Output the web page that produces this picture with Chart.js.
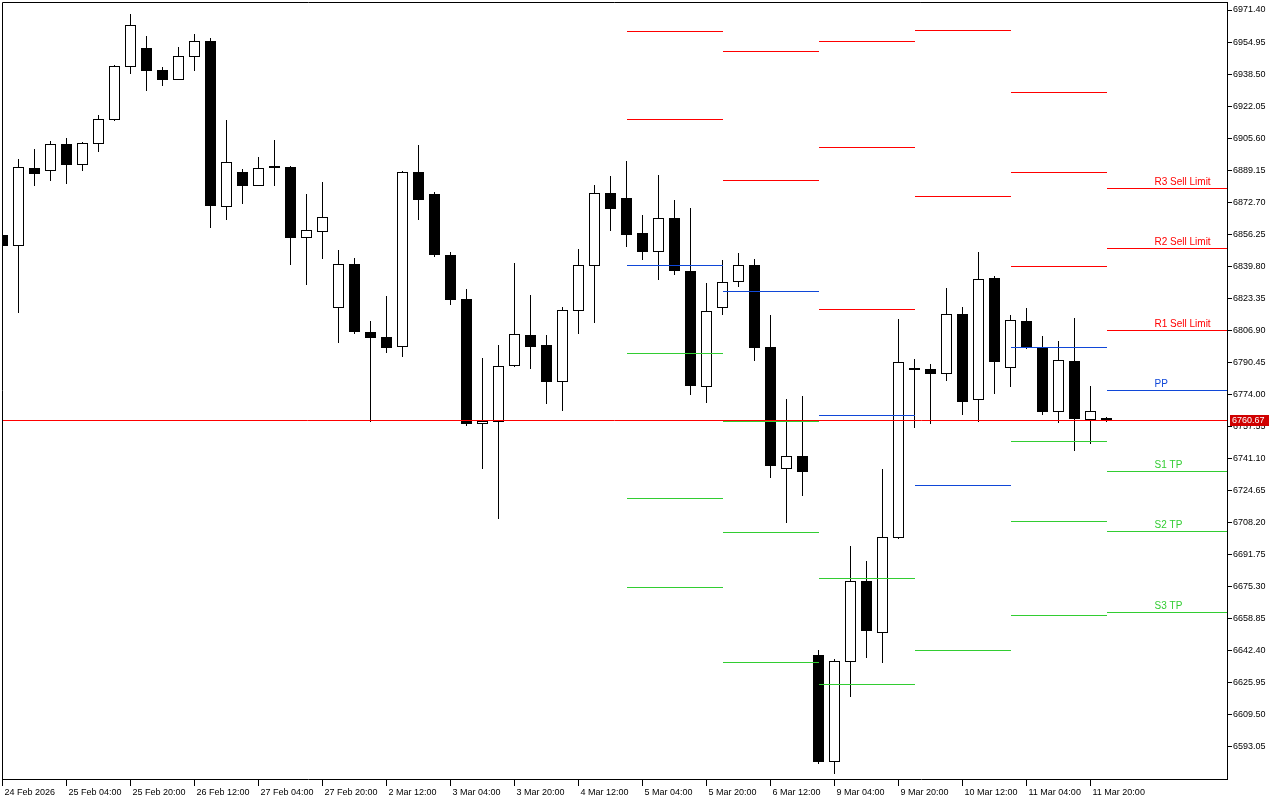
<!DOCTYPE html>
<html>
<head>
<meta charset="utf-8">
<title>US500 H4 - daily pivots</title>
<script src="https://cdn.jsdelivr.net/npm/chart.js@4.4.1/dist/chart.umd.min.js"></script>
<style>
  html, body { margin: 0; padding: 0; background: #fff; }
  canvas { display: block; }
</style>
</head>
<body>
<canvas id="chart" width="1280" height="800"></canvas>
<script>
/* ---------- data: H4 candles, 24 Feb 12:00 .. 12 Mar 00:00 ---------- */
const opens = [
  6855.8, 6850.5, 6890.1, 6889.1, 6902.4, 6892.2, 6902.9, 6915.3, 6942.5, 6951.7,
  6940.4, 6935.8, 6947.6, 6955.3, 6870.6, 6888.0, 6881.4, 6890.9, 6890.6, 6854.7,
  6857.7, 6818.7, 6840.8, 6805.9, 6803.3, 6798.7, 6888.0, 6876.7, 6845.4, 6822.8,
  6759.1, 6760.2, 6788.9, 6804.3, 6799.2, 6780.7, 6817.2, 6840.3, 6877.3, 6874.7,
  6856.7, 6847.5, 6864.4, 6837.2, 6778.1, 6818.7, 6832.1, 6840.3, 6798.2, 6736.0,
  6742.2, 6640.0, 6585.3, 6636.9, 6678.0, 6651.8, 6700.6, 6787.6, 6786.9, 6784.8,
  6815.3, 6771.5, 6833.8, 6787.9, 6811.7, 6798.2, 6765.1, 6791.0, 6761.2, 6761.6
];
const highs = [
  6857.0, 6894.9, 6900.0, 6904.1, 6905.7, 6903.6, 6917.5, 6942.8, 6969.3, 6958.0,
  6942.1, 6952.4, 6959.1, 6957.0, 6914.9, 6889.7, 6895.9, 6904.6, 6891.3, 6876.9,
  6883.1, 6848.1, 6844.0, 6811.7, 6824.5, 6888.6, 6902.1, 6877.6, 6847.1, 6828.1,
  6792.7, 6799.3, 6841.5, 6825.0, 6804.5, 6818.9, 6848.6, 6881.5, 6886.1, 6893.8,
  6866.1, 6886.7, 6873.8, 6869.7, 6831.2, 6843.0, 6846.6, 6843.5, 6814.8, 6771.6,
  6773.2, 6642.7, 6637.9, 6696.1, 6688.4, 6735.7, 6812.7, 6792.2, 6789.6, 6828.5,
  6818.7, 6847.1, 6834.8, 6814.8, 6818.3, 6804.0, 6801.4, 6813.2, 6777.9, 6762.4
];
const lows = [
  6849.5, 6815.9, 6881.2, 6883.7, 6882.2, 6888.9, 6898.6, 6914.5, 6938.7, 6930.0,
  6932.5, 6935.6, 6940.2, 6859.6, 6863.7, 6871.9, 6881.2, 6881.2, 6840.6, 6830.3,
  6843.7, 6800.5, 6805.1, 6759.9, 6795.4, 6793.3, 6863.7, 6844.7, 6820.0, 6757.9,
  6735.7, 6710.1, 6788.2, 6787.2, 6769.2, 6765.6, 6805.1, 6810.8, 6858.0, 6849.8,
  6843.2, 6832.9, 6835.5, 6773.8, 6769.7, 6814.9, 6829.3, 6791.3, 6731.2, 6708.1,
  6721.9, 6584.5, 6579.4, 6618.7, 6638.7, 6636.2, 6699.9, 6756.9, 6758.9, 6781.0,
  6763.5, 6759.9, 6774.3, 6777.9, 6797.3, 6763.5, 6759.4, 6745.1, 6748.7, 6759.9
];
const closes = [
  6850.3, 6890.6, 6887.5, 6902.4, 6891.9, 6902.9, 6915.3, 6942.5, 6963.5, 6940.2,
  6935.8, 6947.6, 6955.3, 6870.9, 6893.2, 6881.2, 6890.1, 6890.2, 6854.5, 6858.3,
  6864.9, 6840.8, 6806.2, 6803.3, 6798.0, 6888.0, 6874.0, 6845.7, 6822.6, 6758.9,
  6760.2, 6788.4, 6804.8, 6798.5, 6780.5, 6817.2, 6840.3, 6877.3, 6869.3, 6856.2,
  6847.3, 6864.4, 6837.5, 6778.4, 6816.7, 6831.5, 6840.3, 6798.0, 6737.4, 6742.2,
  6734.3, 6585.3, 6636.9, 6678.0, 6652.6, 6700.6, 6790.5, 6786.9, 6784.6, 6815.3,
  6770.2, 6833.1, 6790.8, 6812.0, 6798.2, 6765.1, 6791.5, 6761.5, 6765.3, 6760.67
];
const lastPrice = 6760.67;

// time axis labels, one every 4 bars
const xLabels = [
  "24 Feb 2026", "25 Feb 04:00", "25 Feb 20:00", "26 Feb 12:00", "27 Feb 04:00", "27 Feb 20:00",
  "2 Mar 12:00", "3 Mar 04:00", "3 Mar 20:00", "4 Mar 12:00", "5 Mar 04:00", "5 Mar 20:00",
  "6 Mar 12:00", "9 Mar 04:00", "9 Mar 20:00", "10 Mar 12:00", "11 Mar 04:00", "11 Mar 20:00"
];
const yTicks = [
  6971.40, 6954.95, 6938.50, 6922.05, 6905.60, 6889.15, 6872.70, 6856.25, 6839.80, 6823.35,
  6806.90, 6790.45, 6774.00, 6757.55, 6741.10, 6724.65, 6708.20, 6691.75, 6675.30, 6658.85,
  6642.40, 6625.95, 6609.50, 6593.05
];

/* ---------- daily pivot levels (null = off the visible range) ---------- */
const pivotDays = ["5 Mar", "6 Mar", "9 Mar", "10 Mar", "11 Mar", "12 Mar"];
const pivotStart = [39, 45, 51, 57, 63, 69]; // first H4 bar of each day
const r3 = [null, null, 6955.3, null, 6929.1, 6879.8];
const r2 = [6960.6, 6950.2, 6900.9, 6961.0, 6888.0, 6849.0];
const r1 = [6915.3, 6883.6, 6817.7, 6875.7, 6839.8, 6806.9];
const pp = [6840.3, 6826.9, 6763.2, 6727.3, 6798.2, 6776.1];
const s1 = [6795.1, 6760.3, 6679.5, 6642.5, 6749.9, 6734.5];
const s2 = [6720.6, 6703.1, 6625.1, null, 6708.8, 6703.7];
const s3 = [6674.9, 6636.4, null, null, 6660.5, 6662.1];
const levelNames = ["R3 Sell Limit", "R2 Sell Limit", "R1 Sell Limit", "PP", "S1 TP", "S2 TP", "S3 TP"];

const RED = "#ff0000", BLUE = "#1048d8", GREEN = "#32cd32";
const X_MIN = -0.03125, X_MAX = 76.53;
const Y_MIN = 6576.43, Y_MAX = 6975.51;
const FONT = "'Liberation Sans', Arial, sans-serif";

const levels = [
  { name: levelNames[0], values: r3, color: RED },
  { name: levelNames[1], values: r2, color: RED },
  { name: levelNames[2], values: r1, color: RED },
  { name: levelNames[3], values: pp, color: BLUE },
  { name: levelNames[4], values: s1, color: GREEN },
  { name: levelNames[5], values: s2, color: GREEN },
  { name: levelNames[6], values: s3, color: GREEN },
];

// one horizontal segment per day, broken by a null point
function segments(values) {
  const pts = [];
  values.forEach((v, d) => {
    const x0 = pivotStart[d];
    const x1 = d + 1 < pivotStart.length ? pivotStart[d + 1] : X_MAX;
    pts.push({ x: x0, y: v }, { x: x1, y: v }, { x: x1, y: null });
  });
  return pts;
}

/* ---------- pixel snapping so candles and levels stay sharp like the terminal ---------- */
const crisp = {
  id: "crisp",
  beforeDatasetDraw(chart) {
    const ctx = chart.ctx;
    const proto = CanvasRenderingContext2D.prototype;
    ctx.rect = function (x, y, w, h) {
      const x0 = Math.round(x), y0 = Math.round(y);
      proto.rect.call(this, x0, y0, Math.round(x + w) - x0, Math.round(y + h) - y0);
    };
    ctx.moveTo = function (x, y) { proto.moveTo.call(this, Math.round(x), Math.floor(y) + 0.5); };
    ctx.lineTo = function (x, y) { proto.lineTo.call(this, Math.round(x), Math.floor(y) + 0.5); };
  },
  afterDatasetDraw(chart) {
    const ctx = chart.ctx;
    delete ctx.rect;
    delete ctx.moveTo;
    delete ctx.lineTo;
  },
};

/* ---------- extra drawing: frame, captions, price tag ---------- */
const overlay = {
  id: "overlay",
  afterDatasetsDraw(chart) {
    const { ctx, chartArea: a, scales: { x, y } } = chart;
    ctx.save();
    ctx.strokeStyle = "#000";
    ctx.lineWidth = 1;
    ctx.beginPath();
    ctx.moveTo(a.left + 0.5, a.bottom);
    ctx.lineTo(a.left + 0.5, a.top + 0.5);
    ctx.lineTo(a.right, a.top + 0.5);
    ctx.stroke();

    ctx.font = "10px " + FONT;
    ctx.textAlign = "left";
    ctx.textBaseline = "alphabetic";
    const lx = x.getPixelForValue(72);
    levels.forEach((l) => {
      const v = l.values[l.values.length - 1];
      if (v == null) return;
      ctx.fillStyle = l.color;
      ctx.fillText(l.name, lx, Math.floor(y.getPixelForValue(v)) - 3);
    });
    ctx.restore();
  },
  afterDraw(chart) {
    const { ctx, chartArea: a, scales: { y } } = chart;
    const py = Math.floor(y.getPixelForValue(lastPrice));
    ctx.save();
    ctx.fillStyle = "#d00000";
    ctx.fillRect(a.right + 3, py - 5, 39, 11);
    ctx.fillStyle = "#fff";
    ctx.font = "9px " + FONT;
    ctx.textBaseline = "middle";
    ctx.fillText(lastPrice.toFixed(2), a.right + 5, py + 1);
    ctx.restore();
  },
};

/* ---------- chart ---------- */
const datasets = [
  {
    type: "bar",
    label: "wick",
    data: highs.map((h, i) => ({ x: i, y: [lows[i], h] })),
    backgroundColor: "#000",
    borderWidth: 0,
    barThickness: 1,
    grouped: false,
    order: 3,
  },
  {
    type: "bar",
    label: "body",
    data: opens.map((o, i) => ({ x: i, y: [o, closes[i]] })),
    backgroundColor: opens.map((o, i) => (closes[i] >= o ? "#fff" : "#000")),
    borderColor: "#000",
    borderWidth: 1,
    borderSkipped: false,
    barThickness: 11,
    grouped: false,
    order: 2,
  },
  ...levels.map((l) => ({
    type: "line",
    label: l.name,
    data: segments(l.values),
    borderColor: l.color,
    borderWidth: 1,
    pointRadius: 0,
    spanGaps: false,
    tension: 0,
    segment: {},
    order: 1,
  })),
  {
    type: "line",
    label: "price",
    data: [{ x: X_MIN - 1, y: lastPrice }, { x: X_MAX + 1, y: lastPrice }],
    borderColor: RED,
    borderWidth: 1,
    pointRadius: 0,
    segment: {},
    order: 0,
  },
];

Chart.defaults.font.family = FONT;
Chart.defaults.font.size = 9;
Chart.defaults.color = "#000";

new Chart(document.getElementById("chart"), {
  type: "bar",
  data: { datasets },
  options: {
    responsive: false,
    devicePixelRatio: 1,
    animation: false,
    events: [],
    layout: { padding: { left: 2, top: 2, right: 0, bottom: 0 } },
    plugins: { legend: { display: false }, tooltip: { enabled: false } },
    scales: {
      x: {
        type: "linear",
        offset: false,
        min: X_MIN,
        max: X_MAX,
        afterBuildTicks: (s) => { s.ticks = xLabels.map((_, k) => ({ value: k * 4 })); },
        afterFit: (s) => { s.height = 21; s.paddingLeft = 0; s.paddingRight = 0; },
        ticks: {
          autoSkip: false,
          maxRotation: 0,
          align: "start",
          labelOffset: 2,
          padding: 1,
          callback: (v, idx) => xLabels[idx],
        },
        grid: { offset: false, drawOnChartArea: false, drawTicks: true, tickLength: 7, color: "#000" },
        border: { display: true, color: "#000", width: 1 },
      },
      y: {
        type: "linear",
        position: "right",
        min: Y_MIN,
        max: Y_MAX,
        afterBuildTicks: (s) => { s.ticks = yTicks.map((v) => ({ value: v })); },
        afterFit: (s) => { s.width = 53; s.paddingTop = 0; s.paddingBottom = 0; },
        ticks: {
          autoSkip: false,
          padding: 1,
          callback: (v) => Number(v).toFixed(2),
        },
        grid: { drawOnChartArea: false, drawTicks: true, tickLength: 5, color: "#000" },
        border: { display: true, color: "#000", width: 1 },
      },
    },
  },
  plugins: [crisp, overlay],
});
</script>
</body>
</html>
